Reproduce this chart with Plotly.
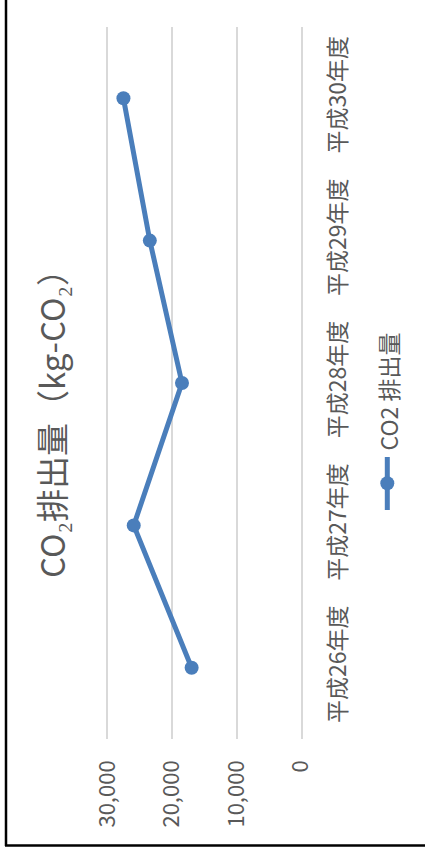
import plotly.graph_objects as go

categories = ["平成26年度", "平成27年度", "平成28年度", "平成29年度", "平成30年度"]
co2_values = [17000, 26000, 18500, 23500, 27600]
value_ticks = [0, 10000, 20000, 30000]
series_name = "CO2 排出量"
title_text = "CO₂排出量（kg-CO₂）"

W, H = 425, 855
L, R, T, B = 108, 124, 27, 116
PW, PH = W - L - R, H - T - B

def px(p):
    return (p - L) / PW

def py(p):
    return (H - B - p) / PH

BLUE = "#4A7EBB"
GRAY = "#595959"
GRID = "#d9d9d9"
FONT = "Noto Sans CJK JP"

fig = go.Figure()
fig.add_trace(go.Scatter(
    x=co2_values, y=categories, mode="lines+markers",
    line=dict(color=BLUE, width=5),
    marker=dict(color=BLUE, size=14),
    name=series_name, showlegend=False,
))

fig.update_layout(
    width=W, height=H,
    margin=dict(l=L, r=R, t=T, b=B),
    paper_bgcolor="white", plot_bgcolor="white",
    font=dict(family=FONT, color=GRAY, size=22),
    xaxis=dict(
        range=[30000, 0], tickvals=value_ticks, tickformat=",",
        tickangle=-90, showgrid=True, gridcolor=GRID, gridwidth=2,
        zeroline=False, showline=False, ticks="", ticklabelstandoff=16,
        tickfont=dict(size=22, color=GRAY),
    ),
    yaxis=dict(
        type="category", categoryorder="array", categoryarray=categories,
        range=[-0.5, 4.5], side="right", tickangle=-90,
        showgrid=False, zeroline=False, showline=True, mirror=True,
        linecolor=GRID, linewidth=2, ticks="",
        ticklabelstandoff=15, tickfont=dict(size=23, color=GRAY),
    ),
)

# Title (rotated)
fig.add_annotation(
    text=title_text, xref="paper", yref="paper", x=px(51), y=py(416),
    xanchor="center", yanchor="middle", textangle=-90, showarrow=False,
    font=dict(size=33, color=GRAY, family=FONT),
)

# Legend (rotated)
fig.add_shape(type="line", xref="paper", yref="paper",
              x0=px(387.3), x1=px(387.3), y0=py(457), y1=py(510),
              line=dict(color=BLUE, width=5))
fig.add_shape(type="circle", xref="paper", yref="paper",
              x0=px(387.3 - 7), x1=px(387.3 + 7), y0=py(483.3 + 7), y1=py(483.3 - 7),
              fillcolor=BLUE, line=dict(color=BLUE, width=0))
fig.add_annotation(
    text=series_name, xref="paper", yref="paper", x=px(387), y=py(391.5),
    xanchor="center", yanchor="middle", textangle=-90, showarrow=False,
    font=dict(size=23, color=GRAY, family=FONT),
)

# Chart frame (left and bottom edges visible)
fig.add_shape(type="line", xref="paper", yref="paper",
              x0=px(6), x1=px(6), y0=py(-5), y1=py(846),
              line=dict(color="black", width=2.5))
fig.add_shape(type="line", xref="paper", yref="paper",
              x0=px(5), x1=px(430), y0=py(845.5), y1=py(845.5),
              line=dict(color="black", width=2.5))

fig.write_html(
    "out.html",
    config={"displayModeBar": False},
    post_script="document.body.style.margin='0';document.body.style.overflow='hidden';",
)
